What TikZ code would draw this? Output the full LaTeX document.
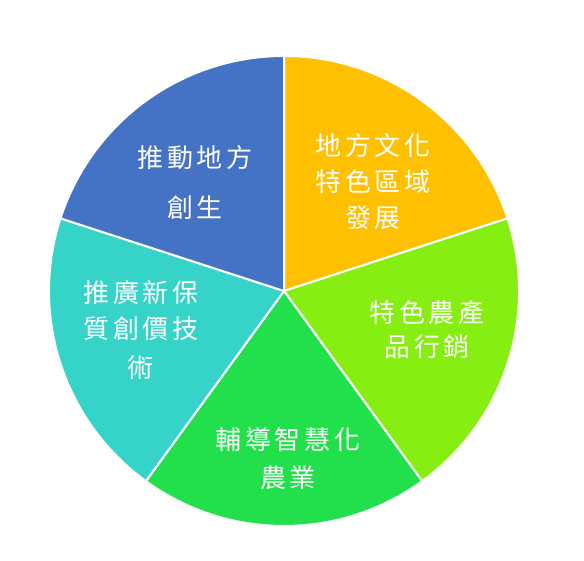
\documentclass[tikz,border=0pt]{standalone}
\usepackage{fontspec}
\newfontfamily\cjk[LetterSpace=15]{Noto Sans CJK TC}
\usetikzlibrary{positioning}

\definecolor{secOrange}{HTML}{FFC000}
\definecolor{secLime}{HTML}{86EF11}
\definecolor{secGreen}{HTML}{22E04B}
\definecolor{secTeal}{HTML}{36D3C8}
\definecolor{secBlue}{HTML}{4472C4}

\begin{document}
\begin{tikzpicture}[
    x=1pt, y=1pt,
    sector/.style={draw=white, line width=2pt, line join=round},
    label/.style={text=white, align=center, font=\cjk\fontsize{26}{36}\selectfont, inner sep=0pt}
]
\useasboundingbox (0,0) rectangle (584,561);

\coordinate (c) at (284,270);

% Sectors
\filldraw[sector, fill=secOrange] (c) -- ++(90:235) arc (90:18:235) -- cycle;
\filldraw[sector, fill=secLime] (c) -- ++(18:235) arc (18:-54:235) -- cycle;
\filldraw[sector, fill=secGreen] (c) -- ++(-54:235) arc (-54:-126:235) -- cycle;
\filldraw[sector, fill=secTeal] (c) -- ++(-126:235) arc (-126:-198:235) -- cycle;
\filldraw[sector, fill=secBlue] (c) -- ++(162:235) arc (162:90:235) -- cycle;

% Labels
\node[label] (culture) at (373,379) {地方文化\\特色區域\\發展};
\node[label] (produce) at (427,231) {特色農產\\[-2pt]品行銷};
\node[label] (smart) at (288,102) {輔導智慧化\\[2pt]農業};
\node[label] (quality) at (141,231) {推廣新保\\質創價技\\[3pt]術};
\node[label] (revital) at (195,378) {推動地方\\[14pt]創生};

\end{tikzpicture}
\end{document}
